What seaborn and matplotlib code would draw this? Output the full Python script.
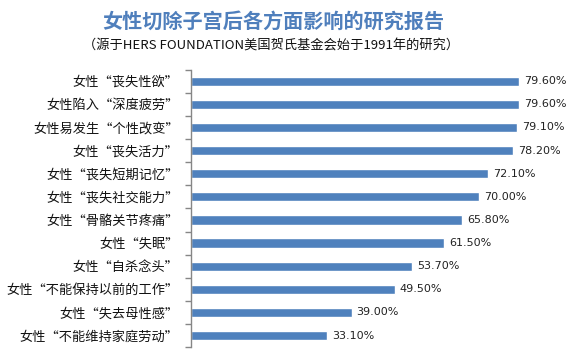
import numpy as np
import pandas as pd
import matplotlib
matplotlib.use("Agg")
import matplotlib.pyplot as plt
import seaborn as sns

# data
labels = [
    "女性“丧失性欲”",
    "女性陷入“深度疲劳”",
    "女性易发生“个性改变”",
    "女性“丧失活力”",
    "女性“丧失短期记忆”",
    "女性“丧失社交能力”",
    "女性“骨骼关节疼痛”",
    "女性“失眠”",
    "女性“自杀念头”",
    "女性“不能保持以前的工作”",
    "女性“失去母性感”",
    "女性“不能维持家庭劳动”",
]
values = [79.6, 79.6, 79.1, 78.2, 72.1, 70.0, 65.8, 61.5, 53.7, 49.5, 39.0, 33.1]

title = "女性切除子宫后各方面影响的研究报告"
subtitle = "（源于HERS FOUNDATION美国贺氏基金会始于1991年的研究）"

sns.set_theme(style="white")
plt.rcParams["font.family"] = ["Noto Sans CJK SC", "DejaVu Sans"]

df = pd.DataFrame({"label": labels, "value": values})

fig = plt.figure(figsize=(5.74, 3.55), dpi=100)
ax = fig.add_axes([0.333, 0.022, 0.66, 0.782])

sns.barplot(data=df, x="value", y="label", color="#4F81BD", saturation=1,
            width=0.4, ax=ax)

ax.set_xlim(0, 92)
ax.set_xlabel("")
ax.set_ylabel("")
ax.set_xticks([])

# category boundary ticks on the y axis
n = len(labels)
ax.set_yticks(range(n))
ax.set_yticklabels(labels, fontsize=9.5, color="#111111")
ax.set_yticks(np.arange(-0.5, n, 1), minor=True)
ax.tick_params(axis="y", which="major", length=0, pad=9)
ax.tick_params(axis="y", which="minor", length=4, width=1, color="#868686",
               direction="out", left=True)
ax.set_ylim(n - 0.5, -0.5)

for s in ["top", "right", "bottom"]:
    ax.spines[s].set_visible(False)
ax.spines["left"].set_color("#868686")
ax.spines["left"].set_linewidth(1)

for i, v in enumerate(values):
    ax.text(v + 1.2, i, f"{v:.2f}%", va="center", ha="left", fontsize=8,
            color="#222222", family=["DejaVu Sans"])

fig.text(0.476, 0.94, title, ha="center", va="center", fontsize=14.5,
         fontweight="bold", color="#4F7FBC")
fig.text(0.473, 0.87, subtitle, ha="center", va="center", fontsize=9.5,
         color="#111111")

fig.savefig("out.png", dpi=100)
